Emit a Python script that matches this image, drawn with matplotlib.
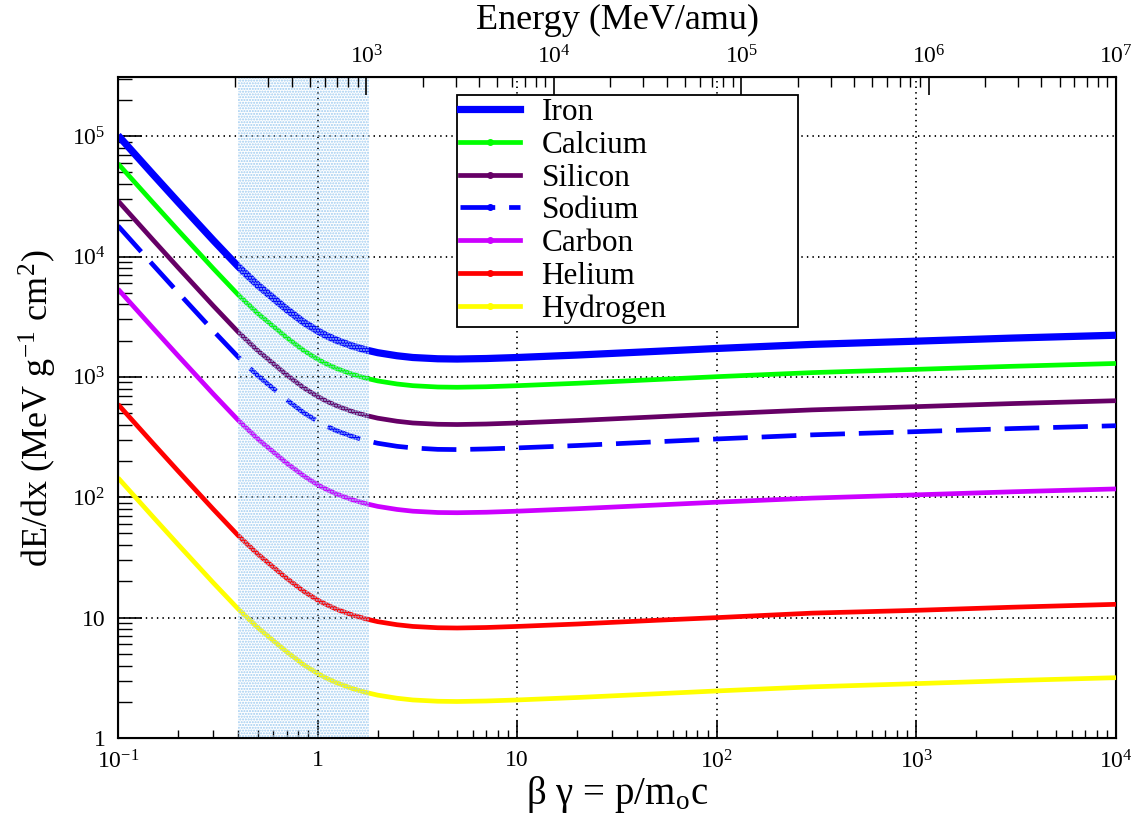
import math
import matplotlib
matplotlib.use('Agg')
import matplotlib.pyplot as plt
from matplotlib.lines import Line2D
from matplotlib.ticker import FixedLocator, FuncFormatter, LogLocator, NullFormatter

plt.rcParams['font.family'] = ['Liberation Serif', 'DejaVu Serif']
plt.rcParams['mathtext.fontset'] = 'stix'
plt.rcParams['lines.scale_dashes'] = False
plt.rcParams['hatch.linewidth'] = 1.0

# beta*gamma sample points
betagamma = [0.1, 0.15, 0.2, 0.3, 0.4, 0.5, 0.7, 0.85, 1, 1.1, 1.25, 1.5, 1.75, 2,
             2.5, 3, 4, 5, 7, 10, 20, 50, 100, 300, 1000, 3000, 10000]

# dE/dx (MeV g^-1 cm^2)
iron = [101500, 47950, 28350, 13650, 8260, 5810, 3640, 2849, 2408, 2212, 2009, 1799,
        1673, 1589, 1498, 1449, 1414, 1407, 1421, 1449, 1519, 1631, 1722, 1862, 1981,
        2100, 2219]
calcium = [59160, 27950, 16520, 7956, 4814, 3386, 2122, 1661, 1404, 1289, 1171, 1049,
           975, 926, 873, 845, 824, 820, 828, 845, 885, 951, 1004, 1085, 1155, 1224, 1293]
silicon = [29000, 13700, 8100, 3900, 2360, 1660, 1040, 814, 688, 632, 574, 514,
           478, 454, 428, 414, 404, 402, 406, 414, 434, 466, 492, 532, 566, 600, 634]
sodium = [17980, 8494, 5022, 2418, 1463, 1029, 645, 505, 427, 392, 356, 319,
          296, 281, 265, 257, 250, 249, 252, 257, 269, 289, 305, 330, 351, 372, 393]
carbon = [5365, 2535, 1499, 722, 437, 307, 192, 151, 127, 117, 106, 95.1,
          88.4, 84.0, 79.2, 76.6, 74.7, 74.4, 75.1, 76.6, 80.3, 86.2, 91.0, 98.4,
          104.7, 111, 117.3]
helium = [592, 279.5, 165.2, 79.6, 48.1, 33.9, 21.2, 16.6, 14.0, 12.9, 11.7, 10.5,
          9.75, 9.26, 8.73, 8.45, 8.24, 8.2, 8.28, 8.45, 8.85, 9.51, 10.0, 10.9,
          11.5, 12.2, 12.9]
hydrogen = [145, 68.5, 40.5, 19.5, 11.8, 8.3, 5.2, 4.07, 3.44, 3.16, 2.87, 2.57,
            2.39, 2.27, 2.14, 2.07, 2.02, 2.01, 2.03, 2.07, 2.17, 2.33, 2.46, 2.66,
            2.83, 3.0, 3.17]

names = ['Iron', 'Calcium', 'Silicon', 'Sodium', 'Carbon', 'Helium', 'Hydrogen']
series = [iron, calcium, silicon, sodium, carbon, helium, hydrogen]
colors = ['#0000ff', '#00ff00', '#660066', '#0000ff', '#cc00ff', '#ff0000', '#ffff00']

band = (0.4, 1.8)
energy_ticks = [1e3, 1e4, 1e5, 1e6, 1e7]


def power_label(v, pos=None):
    if abs(v - 1) < 1e-9:
        return '1'
    if abs(v - 10) < 1e-9:
        return '10'
    e = int(round(math.log10(v)))
    return r'$\mathregular{10^{%d}}$' % e


fig = plt.figure(figsize=(11.36, 8.18), dpi=100)
ax = fig.add_axes([118 / 1136, 80 / 818, 998 / 1136, 661 / 818])

handles = []
for name, vals, col in zip(names, series, colors):
    lw = 5.2 if name == 'Iron' else 3.4
    if name == 'Sodium':
        ax.plot(betagamma, vals, color=col, lw=lw, dashes=(25, 10), zorder=3)
        h = Line2D([], [], color=col, lw=lw, marker='o', markersize=4, dashes=(25, 10))
    else:
        ax.plot(betagamma, vals, color=col, lw=lw, solid_capstyle='butt', zorder=3)
        h = Line2D([], [], color=col, lw=lw, marker='o', markersize=4)
    handles.append(h)

ax.axvspan(band[0], band[1], facecolor='none', edgecolor='#9ecbf0', hatch='......',
           linewidth=0, zorder=4)

ax.set_xscale('log')
ax.set_yscale('log')
ax.set_xlim(0.1, 1e4)
ax.set_ylim(1, 3.1e5)

ax.xaxis.set_major_formatter(FuncFormatter(power_label))
ax.yaxis.set_major_formatter(FuncFormatter(power_label))
ax.yaxis.set_major_locator(LogLocator(base=10, numticks=20))
ax.yaxis.set_minor_locator(LogLocator(base=10, subs=range(2, 10), numticks=20))
ax.yaxis.set_minor_formatter(NullFormatter())
ax.xaxis.set_minor_formatter(NullFormatter())

ax.tick_params(axis='x', which='major', direction='in', length=12, width=1.2,
               labelsize=17, pad=9, top=False)
ax.tick_params(axis='x', which='minor', direction='in', length=6, width=1.0, top=False)
ax.tick_params(axis='y', which='major', direction='in', length=17, width=1.2,
               labelsize=17, pad=9, right=False)
ax.tick_params(axis='y', which='minor', direction='in', length=10, width=1.0, right=False)

ax.grid(True, which='major', color='k', linestyle=(0, (1, 3)), linewidth=1.3)
for s in ax.spines.values():
    s.set_linewidth(1.5)

ax.set_xlabel('β γ = p/m$_\\mathregular{o}$c', fontsize=28, labelpad=0)
ax.set_ylabel(r'dE/dx (MeV g$^{\mathregular{-1}}$ cm$^{\mathregular{2}}$)', fontsize=26,
              labelpad=10)

# top axis: energy per nucleon
top = ax.twiny()
top.set_xscale('log')
top.set_xlim(47.3, 1e7)
top.xaxis.set_major_locator(FixedLocator(energy_ticks))
top.xaxis.set_minor_locator(FixedLocator([k * 10 ** n for n in range(2, 7) for k in range(2, 10)]))
top.xaxis.set_major_formatter(FuncFormatter(power_label))
top.xaxis.set_minor_formatter(NullFormatter())
top.tick_params(axis='x', which='major', direction='in', length=13, width=1.2,
                labelsize=17, pad=6)
top.tick_params(axis='x', which='minor', direction='in', length=7, width=1.0)
top.set_xlabel('Energy (MeV/amu)', fontsize=26, labelpad=12)

leg = ax.legend(handles, names, loc='upper left',
                bbox_to_anchor=(0.3397, 0.7, 0.3417, 0.2728), mode='expand',
                fontsize=22.5, frameon=True, fancybox=False, framealpha=1,
                edgecolor='k', borderpad=0.1, labelspacing=0.12, handlelength=1.9,
                handletextpad=0.7, numpoints=1, borderaxespad=0)
leg.get_frame().set_linewidth(1.3)
leg.set_zorder(10)

fig.savefig('out.png', dpi=100)
